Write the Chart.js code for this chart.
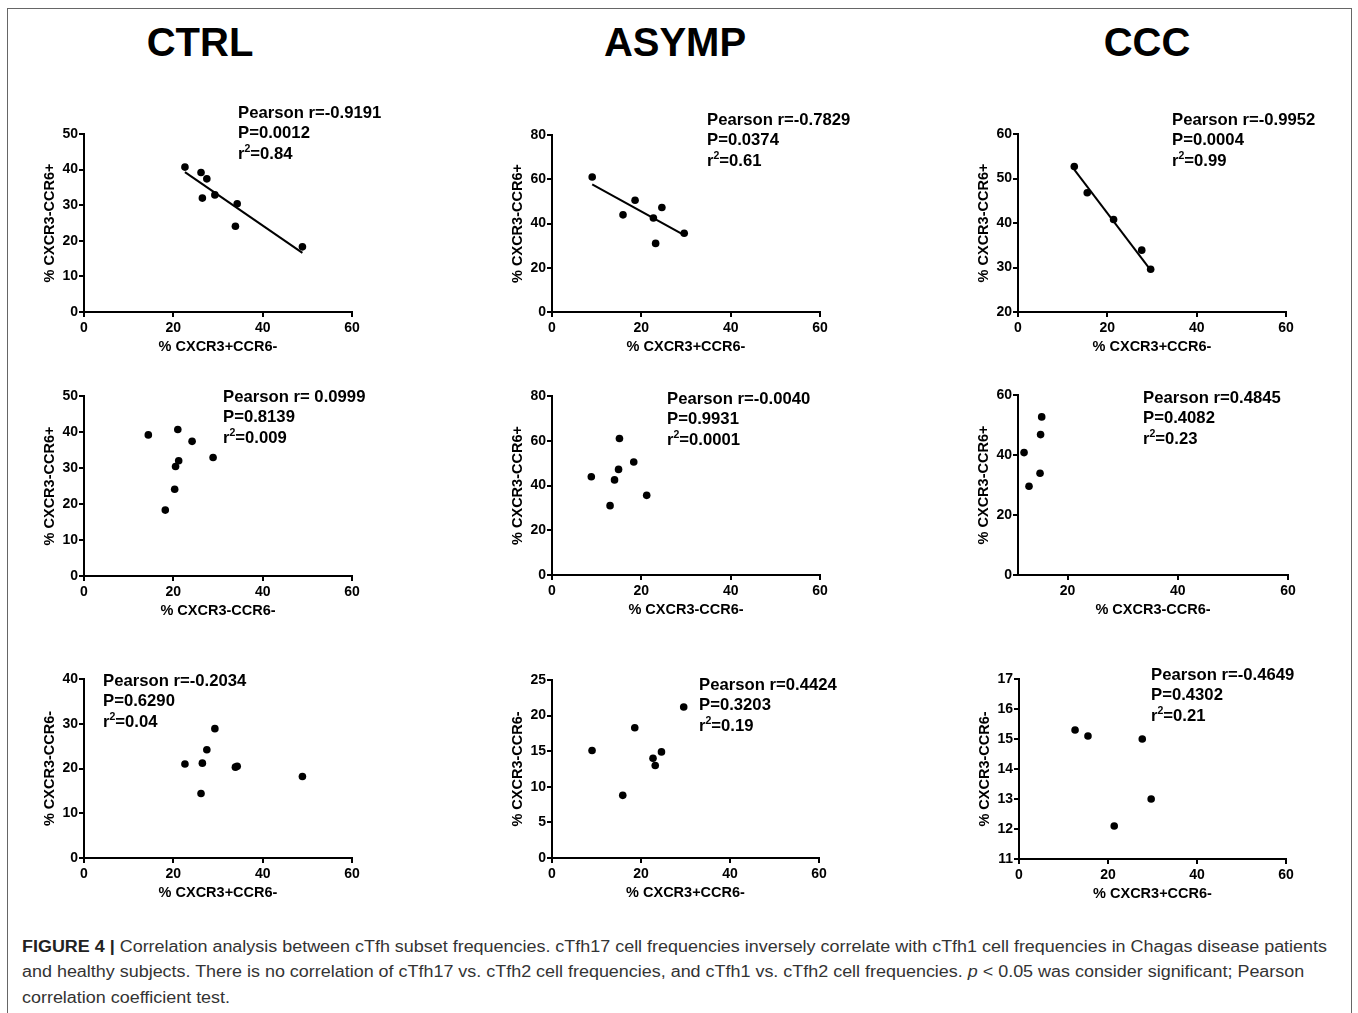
<!DOCTYPE html>
<html lang="en">
<head>
<meta charset="utf-8">
<script src="https://cdn.jsdelivr.net/npm/chart.js@4.4.0/dist/chart.umd.min.js"></script>
<style>
    body { margin: 0; width: 1358px; height: 1013px; position: relative; overflow: hidden; background: #fff;
           font-family: "Liberation Sans", Arial, sans-serif; color: #000; }
    .frame { position: absolute; left: 7px; top: 8px; width: 1343px; height: 1100px; border: 1.5px solid #666; }
    .group { position: absolute; top: 22px; font-size: 40px; line-height: 40px; font-weight: bold; transform: translateX(-50%); }
    .stat { position: absolute; font-size: 16.7px; line-height: 20.5px; font-weight: bold; white-space: pre; }
    .stat sup { font-size: 10.5px; line-height: 0; }
    .panel { position: absolute; }
    .caption { position: absolute; left: 22px; top: 934px; width: max-content; font-size: 16px; line-height: 25.3px;
               color: #333; white-space: nowrap; transform-origin: 0 0; }
    .caption b { color: #222; }
</style>
</head>
<body>
<div class="frame"></div>
<div id="figure"></div>
<div class="caption" id="caption">
    <div id="capLine1"><b>FIGURE 4 |</b> Correlation analysis between cTfh subset frequencies. cTfh17 cell frequencies inversely correlate with cTfh1 cell frequencies in Chagas disease patients</div>
    <div>and healthy subjects. There is no correlation of cTfh17 vs. cTfh2 cell frequencies, and cTfh1 vs. cTfh2 cell frequencies. <i>p</i> &lt; 0.05 was consider significant; Pearson</div>
    <div>correlation coefficient test.</div>
</div>
<script>
    const groups = ['CTRL', 'ASYMP', 'CCC'];

    // one entry per subject: % CXCR3+CCR6- (cTfh1), % CXCR3-CCR6- (cTfh2), % CXCR3-CCR6+ (cTfh17)
    const ctrlTfh1   = [22.6, 26.2, 27.5, 26.5, 29.3, 34.3, 33.9, 48.9];
    const ctrlTfh2   = [21.0, 14.4, 24.2, 21.2, 28.9, 20.5, 20.3, 18.2];
    const ctrlTfh17  = [40.7, 39.2, 37.4, 32.0, 32.9, 30.4, 24.1, 18.3];
    const asympTfh1  = [9.0, 15.9, 18.6, 22.7, 24.6, 23.2, 29.6];
    const asympTfh2  = [15.1, 8.8, 18.3, 14.0, 14.9, 13.0, 21.2];
    const asympTfh17 = [61.0, 43.9, 50.5, 42.5, 47.2, 31.0, 35.6];
    const cccTfh1    = [12.6, 15.5, 21.4, 27.7, 29.7];
    const cccTfh2    = [15.3, 15.1, 12.1, 15.0, 13.0];
    const cccTfh17   = [52.7, 46.8, 40.8, 33.9, 29.6];

    // regression lines of the first row, ends
    const fitX = [[22.6, 48.9], [9.0, 29.6], [12.6, 29.7]];
    const fitY = [[39.3, 16.6], [57.7, 34.7], [52.0, 29.4]];

    const pearsonR = ['-0.9191', '-0.7829', '-0.9952', ' 0.0999', '-0.0040', '0.4845', '-0.2034', '0.4424', '-0.4649'];
    const pValues  = ['0.0012', '0.0374', '0.0004', '0.8139', '0.9931', '0.4082', '0.6290', '0.3203', '0.4302'];
    const rSquared = ['0.84', '0.61', '0.99', '0.009', '0.0001', '0.23', '0.04', '0.19', '0.21'];

    const xTitles = ['% CXCR3+CCR6-', '% CXCR3-CCR6-', '% CXCR3+CCR6-'];
    const yTitles = ['% CXCR3-CCR6+', '% CXCR3-CCR6+', '% CXCR3-CCR6-'];
    const xMin  = [0, 0, 0,  0, 0, 11,  0, 0, 0];
    const xMax  = [60, 60, 60,  60, 60, 60,  60, 60, 60];
    const yMin  = [0, 0, 20,  0, 0, 0,  0, 0, 11];
    const yMax  = [50, 80, 60,  50, 80, 60,  40, 25, 17];
    const yStep = [10, 20, 10,  10, 20, 20,  10, 5, 1];

    // layout: axis box of each panel in page pixels, and where the stats text sits
    const boxL = [84, 552, 1018,  84, 552, 1018,  84, 552, 1019];
    const boxR = [352, 820, 1286,  352, 820, 1288,  352, 819, 1286];
    const boxT = [134, 135, 134,  396, 396, 395,  679, 680, 679];
    const boxB = [312, 312, 312,  576, 575, 575,  858, 858, 859];
    const statX = [238, 707, 1172,  223, 667, 1143,  103, 699, 1151];
    const statY = [113, 120, 120,  397, 399, 398,  681, 685, 675];
    const groupX = [200, 675, 1147];

    const YW = 43, XH = 44, PT = 14, PR = 22;
    const FONT = '"Liberation Sans", Arial, sans-serif';

    const sets = [
        [ctrlTfh1, ctrlTfh2, ctrlTfh17],
        [asympTfh1, asympTfh2, asympTfh17],
        [cccTfh1, cccTfh2, cccTfh17]
    ];
    const pairs = [[0, 2], [1, 2], [0, 1]];   // [x, y] subset per row

    const fig = document.getElementById('figure');

    groups.forEach((g, c) => {
        const d = document.createElement('div');
        d.className = 'group';
        d.style.left = groupX[c] + 'px';
        d.textContent = g;
        fig.appendChild(d);
    });

    function axis(title, min, max, step, fitSize, horizontal) {
        return {
            type: 'linear',
            min: min,
            max: max,
            ticks: { stepSize: step, color: '#000', padding: horizontal ? 3 : 1,
                     font: { family: FONT, size: 14, weight: 'bold' } },
            grid: { drawOnChartArea: false, drawTicks: true, tickLength: 5, color: '#000', lineWidth: 2 },
            border: { display: true, color: '#000', width: 2 },
            title: { display: true, text: title, color: '#000', padding: 0,
                     font: { family: FONT, size: 14.5, weight: 'bold' } },
            // keep only round ticks (drops the 11 that a non-zero x min adds)
            afterBuildTicks: s => { s.ticks = s.ticks.filter(t => Math.abs(t.value / step - Math.round(t.value / step)) < 1e-6); },
            afterFit: s => { if (horizontal) s.height = fitSize; else s.width = fitSize; }
        };
    }

    for (let r = 0; r < 3; r++) {
        for (let c = 0; c < 3; c++) {
            const i = r * 3 + c;
            const xs = sets[c][pairs[r][0]];
            const ys = sets[c][pairs[r][1]];

            const w = YW + (boxR[i] - boxL[i]) + PR;
            const h = PT + (boxB[i] - boxT[i]) + XH;
            const holder = document.createElement('div');
            holder.className = 'panel';
            holder.style.left = (boxL[i] - YW) + 'px';
            holder.style.top = (boxT[i] - PT) + 'px';
            const cv = document.createElement('canvas');
            cv.width = w; cv.height = h;
            cv.style.width = w + 'px'; cv.style.height = h + 'px';
            holder.appendChild(cv);
            fig.appendChild(holder);

            const datasets = [{
                data: xs.map((x, k) => ({ x: x, y: ys[k] })),
                backgroundColor: '#000',
                borderWidth: 0,
                pointRadius: 3.8,
                pointHoverRadius: 3.8,
                clip: false
            }];
            if (r === 0) {
                datasets.push({
                    data: fitX[c].map((x, k) => ({ x: x, y: fitY[c][k] })),
                    showLine: true,
                    borderColor: '#000',
                    borderWidth: 2,
                    pointRadius: 0,
                    clip: false
                });
            }

            new Chart(cv, {
                type: 'scatter',
                data: { datasets: datasets },
                options: {
                    responsive: false,
                    animation: false,
                    events: [],
                    layout: { padding: { top: PT, right: PR, left: 0, bottom: 0 } },
                    plugins: { legend: { display: false }, tooltip: { enabled: false } },
                    scales: {
                        x: axis(xTitles[r], xMin[i], xMax[i], 20, XH, true),
                        y: axis(yTitles[r], yMin[i], yMax[i], yStep[i], YW, false)
                    }
                }
            });

            const st = document.createElement('div');
            st.className = 'stat';
            st.style.left = statX[i] + 'px';
            st.style.top = (statY[i] - 10.25) + 'px';
            st.innerHTML = 'Pearson r=' + pearsonR[i] + '<br>P=' + pValues[i] + '<br>r<sup>2</sup>=' + rSquared[i];
            fig.appendChild(st);
        }
    }

    // squeeze the caption so its first line ends where the printed one does
    const cap = document.getElementById('caption');
    const line1 = document.getElementById('capLine1');
    const natural = line1.getBoundingClientRect().width;
    cap.style.transform = 'scaleX(' + (1305 / natural) + ')';
</script>
</body>
</html>
